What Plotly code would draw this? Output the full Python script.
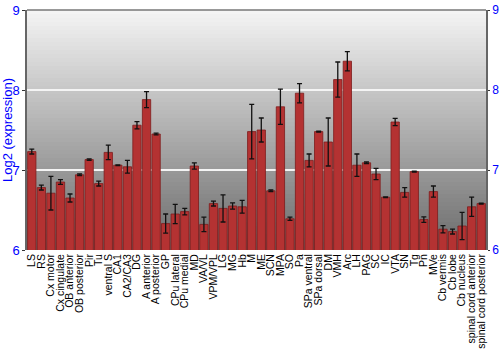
import plotly.graph_objects as go

categories = ["LS", "RS", "Cx motor", "Cx cingulate", "OB anterior", "OB posterior", "Pir", "Tu",
              "ventral S", "CA1", "CA2/CA3", "DG", "A anterior", "A posterior", "GP", "CPu lateral",
              "CPu medial", "MD", "VA/VL", "VPM/VPL", "LG", "MG", "Hb", "M", "ME", "SCN", "MPA", "SO",
              "Pa", "SPa ventral", "SPa dorsal", "DM", "VMH", "Arc", "LH", "PAG", "SC", "IC", "VTA",
              "SN", "Tg", "Pn", "MVe", "Cb vermis", "Cb lobe", "Cb nucleus", "spinal cord anterior",
              "spinal cord posterior"]
values = [7.23, 6.78, 6.71, 6.85, 6.65, 6.94, 7.13, 6.83,
          7.22, 7.06, 7.04, 7.56, 7.88, 7.45, 6.33, 6.45,
          6.48, 7.05, 6.32, 6.58, 6.52, 6.55, 6.54, 7.48, 7.50, 6.74, 7.79, 6.39,
          7.96, 7.12, 7.48, 7.35, 8.13, 8.36, 7.06, 7.09, 6.95, 6.66, 7.60,
          6.72, 6.98, 6.38, 6.73, 6.26, 6.23, 6.30, 6.54, 6.58]
errors = [0.03, 0.03, 0.21, 0.03, 0.05, 0.01, 0.01, 0.03,
          0.09, 0.005, 0.08, 0.045, 0.10, 0.01, 0.12, 0.12,
          0.04, 0.04, 0.09, 0.03, 0.17, 0.04, 0.08, 0.34, 0.15, 0.01, 0.22, 0.02,
          0.12, 0.08, 0.005, 0.30, 0.22, 0.12, 0.14, 0.01, 0.07, 0.005, 0.045,
          0.06, 0.005, 0.035, 0.07, 0.045, 0.03, 0.17, 0.12, 0.005]
y_ticks = [6, 7, 8, 9]

fig = go.Figure()
fig.add_trace(go.Bar(
    x=categories, y=values,
    marker=dict(color="#b43232", line=dict(color="#7d1c1c", width=0.8)),
    error_y=dict(type="data", array=errors, visible=True, color="#111111", thickness=1.3, width=2.5),
))
fig.add_trace(go.Scatter(x=[categories[0]], y=[None], yaxis="y2", showlegend=False))

# gradient background
shapes = []
n = 60
for i in range(n):
    t = i / (n - 1)
    c = int(244 - (244 - 108) * (1 - t))
    shapes.append(dict(type="rect", xref="paper", yref="paper", x0=0, x1=1,
                       y0=i / n, y1=(i + 1) / n, fillcolor=f"rgb({c},{c},{c})",
                       line=dict(width=0), layer="below"))
shapes.append(dict(type="line", xref="paper", yref="paper", x0=0, x1=1, y0=1, y1=1,
                   line=dict(color="#777777", width=1.5)))

fig.update_layout(
    width=500, height=350,
    margin=dict(l=27, r=14, t=10, b=100),
    paper_bgcolor="white", plot_bgcolor="#999999",
    showlegend=False, bargap=0.13,
    shapes=shapes,
    font=dict(family="Liberation Sans, Arial, sans-serif"),
    xaxis=dict(tickangle=-90, tickfont=dict(size=10.5, color="black"), showgrid=False,
               tickmode="array", tickvals=categories, ticktext=categories,
               range=[-0.5, len(categories) - 0.5],
               ticks="", showline=False, automargin=False, ticklabelstandoff=1),
    yaxis=dict(range=[6, 9], tickvals=y_ticks, tickfont=dict(size=13, color="blue"),
               title=dict(text="Log2 (expression)", font=dict(size=13, color="blue"), standoff=4),
               showgrid=True, gridcolor="#f4f4f4", gridwidth=1.5, zeroline=False,
               showline=True, linecolor="#666666", linewidth=1.5,
               ticks="outside", ticklen=3, tickcolor="#333333", automargin=False),
    yaxis2=dict(range=[6, 9], tickvals=y_ticks, overlaying="y", side="right",
                tickfont=dict(size=12, color="blue"), showgrid=False, zeroline=False,
                showline=True, linecolor="#666666", linewidth=1.5,
                ticks="outside", ticklen=2, tickcolor="#333333", automargin=False,
                ticklabelstandoff=0),
)
fig.write_html("out.html")
